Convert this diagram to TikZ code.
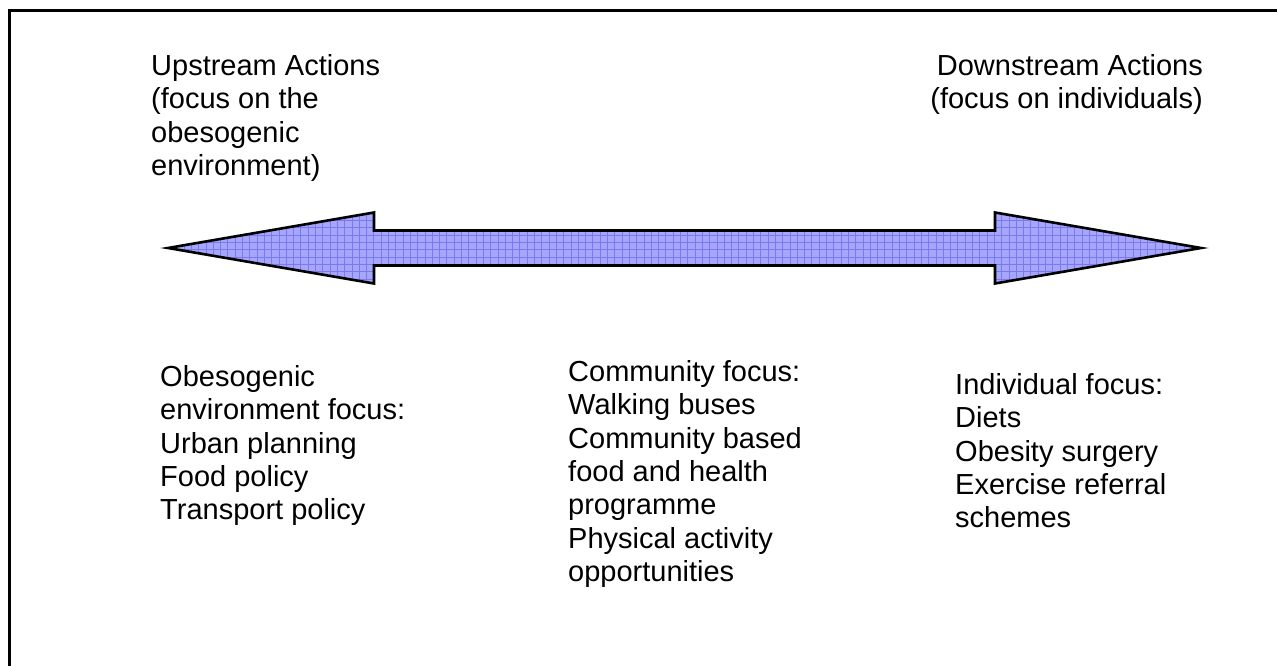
\documentclass[tikz,border=0pt]{standalone}
\usepackage{fontspec}
\setmainfont{Liberation Sans}
\definecolor{arrowfill}{RGB}{166,166,252}
\definecolor{arrowgrid}{RGB}{122,122,238}
\tikzset{
  label text/.style={anchor=north west, inner sep=0pt, align=left,
    font=\fontsize{29}{33.4}\selectfont},
  label right/.style={anchor=north east, inner sep=0pt, align=right,
    font=\fontsize{29}{33.4}\selectfont},
  frame line/.style={line width=3pt, black},
  arrow body/.style={line width=2.6pt, black, line join=miter, fill=arrowfill},
}
\newcommand{\firstline}{\rule{0pt}{24pt}}
\begin{document}
\begin{tikzpicture}[x=1pt,y=-1pt]
  \clip (0,0) rectangle (1277,666);
  \fill[white] (0,0) rectangle (1277,666);
  % frame (extends beyond the right and bottom edges)
  \draw[frame line] (1290,11) -- (9,11) -- (9,680);
  % double-headed block arrow
  \def\arrowpath{(168,248) -- (374,212.5) -- (374,230.5) -- (995,230.5) -- (995,212.5) -- (1201,248) -- (995,283.5) -- (995,265.5) -- (374,265.5) -- (374,283.5) -- cycle}
  \fill[arrowfill] \arrowpath;
  \begin{scope}
    \clip \arrowpath;
    \draw[arrowgrid, line width=0.7pt, step=7.3pt, shift={(1.5,1.5)}] (160,200) grid (1210,300);
  \end{scope}
  \draw[line width=2.6pt, black, line join=miter] \arrowpath;
  % labels
  \node[label text] (up) at (151,51) {\firstline Upstream Actions\\(focus on the\\obesogenic\\environment)};
  \node[label right] (down) at (1203,51) {\firstline Downstream Actions\\(focus on individuals)};
  \node[label text] (env) at (160,362) {\firstline Obesogenic\\environment focus:\\Urban planning\\Food policy\\Transport policy};
  \node[label text] (comm) at (568,357) {\firstline Community focus:\\Walking buses\\Community based\\food and health\\programme\\Physical activity\\opportunities};
  \node[label text] (ind) at (955,370) {\firstline Individual focus:\\Diets\\Obesity surgery\\Exercise referral\\schemes};
\end{tikzpicture}
\end{document}
